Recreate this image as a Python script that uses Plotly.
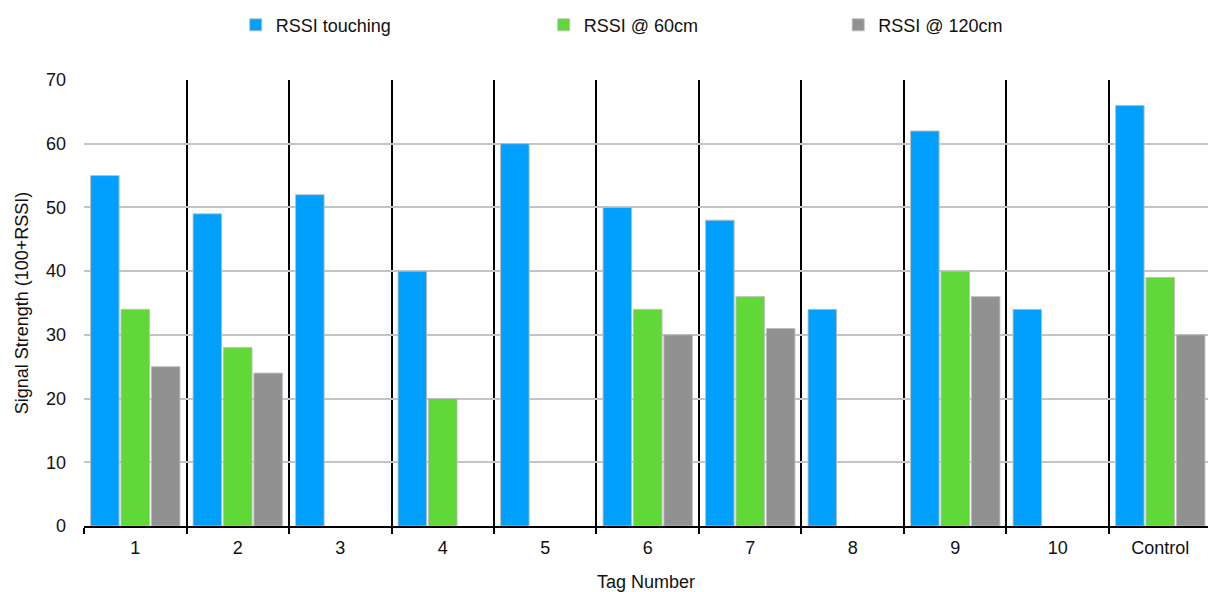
import plotly.graph_objects as go

tags = ["1", "2", "3", "4", "5", "6", "7", "8", "9", "10", "Control"]
rssi_touching = [55, 49, 52, 40, 60, 50, 48, 34, 62, 34, 66]
rssi_60cm = [34, 28, None, 20, None, 34, 36, None, 40, None, 39]
rssi_120cm = [25, 24, None, None, None, 30, 31, None, 36, None, 30]

series = [
    ("RSSI touching", rssi_touching, "#02A0FE", "legend"),
    ("RSSI @ 60cm", rssi_60cm, "#60D838", "legend2"),
    ("RSSI @ 120cm", rssi_120cm, "#919191", "legend3"),
]

font_family = "Helvetica Neue, Liberation Sans, Arial, sans-serif"

fig = go.Figure()
for name, vals, color, leg in series:
    fig.add_trace(go.Bar(
        name=name, x=tags, y=vals, legend=leg,
        marker=dict(color=color, line=dict(color="rgba(190,190,190,0.9)", width=1)),
    ))

# one legend box per series so each entry sits at its own spot along the top
legend_style = dict(orientation="h", y=1.123, yanchor="middle", xanchor="left",
                    font=dict(size=18, family=font_family), bgcolor="rgba(0,0,0,0)")

fig.update_layout(
    width=1208, height=592,
    margin=dict(l=84, r=0, t=80, b=66),
    paper_bgcolor="white", plot_bgcolor="white",
    barmode="group", bargap=0.11, bargroupgap=0.06,
    font=dict(family=font_family, color="#111", size=18),
    showlegend=True,
    legend=dict(x=0.135, **legend_style),
    legend2=dict(x=0.409, **legend_style),
    legend3=dict(x=0.671, **legend_style),
    xaxis=dict(
        type="category", range=[-0.5, 10.466],
        tickson="boundaries", ticks="outside", ticklen=6, tickwidth=2, tickcolor="black",
        showgrid=True, gridcolor="black", gridwidth=2,
        showline=True, linecolor="black", linewidth=2,
        tickfont=dict(size=18), ticklabelstandoff=4,
        title=dict(text="Tag Number", font=dict(size=18), standoff=19),
    ),
    yaxis=dict(
        range=[0, 70], dtick=10,
        showgrid=True, gridcolor="#c4c4c4", gridwidth=1.5,
        zeroline=False, showline=False, ticks="",
        tickfont=dict(size=18), ticklabelstandoff=17,
        title=dict(text="Signal Strength (100+RSSI)", font=dict(size=18), standoff=12),
    ),
)

fig.write_html("out.html")
